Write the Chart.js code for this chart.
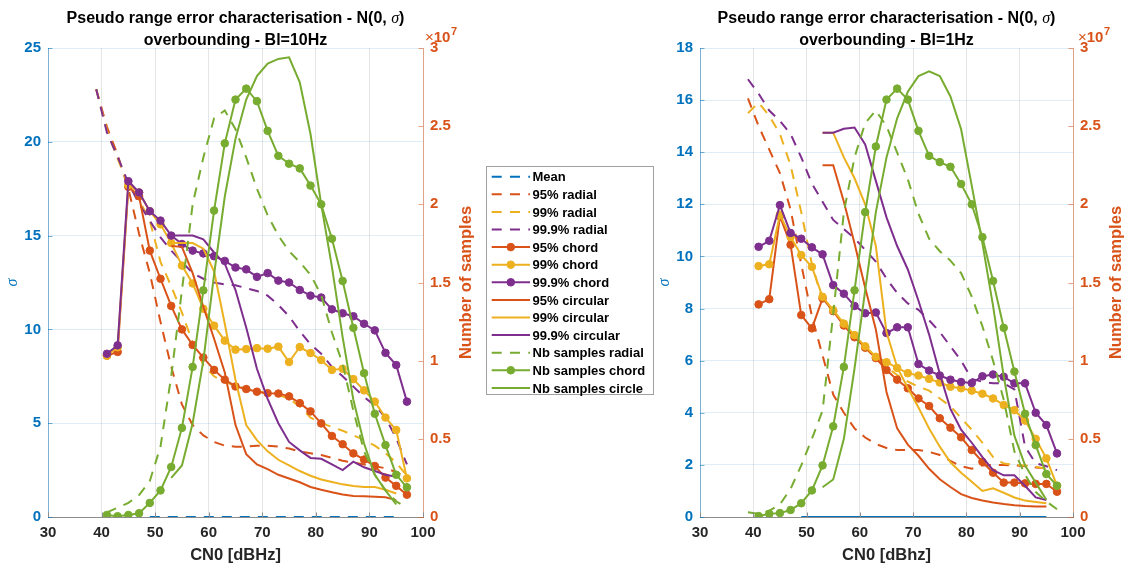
<!DOCTYPE html>
<html>
<head>
<meta charset="utf-8">
<script src="https://cdn.jsdelivr.net/npm/chart.js@4.4.1/dist/chart.umd.min.js"></script>
<style>
  html, body { margin:0; padding:0; background:#fff; }
  body { width:1126px; height:566px; position:relative; overflow:hidden; }
  #cL { position:absolute; left:0; top:0; }
  #cR { position:absolute; left:650px; top:0; }
  #legend { position:absolute; left:486px; top:166px; }
</style>
</head>
<body>
<canvas id="cL" width="484" height="566"></canvas>
<canvas id="cR" width="476" height="566"></canvas>
<svg id="legend" width="170" height="230" xmlns="http://www.w3.org/2000/svg"></svg>
<script>
// ---------- DATA ----------
const cn0 = [39,41,43,45,47,49,51,53,55,57,59,61,63,65,67,69,71,73,75,77,79,81,83,85,87,89,91,93,95,97];
const N = null;

// Left panel: Bl = 10 Hz  (sigma on left axis, samples x1e7 on right axis)
const meanL      = [N,N,N,N,N,0,0,0,0,0,0,0,0,0,0,0,0,0,0,0,0,0,0,0,0,0,0,0,0,N];
const rad95L     = [22.8,20.8,19.3,17.5,15.1,13.0,10.4,8.0,6.0,4.9,4.35,4.0,3.8,3.75,3.75,3.8,3.8,3.75,3.65,3.5,3.4,3.3,3.15,3.0,2.9,2.8,2.7,2.6,2.4,2.1];
const rad99L     = [22.8,20.6,19.1,17.7,16.9,15.8,13.6,12.3,10.9,9.3,8.1,7.5,7.2,7.0,6.85,6.7,6.6,6.5,6.3,5.9,5.3,5.0,4.8,4.6,4.35,4.1,3.8,3.4,2.9,2.2];
const rad999L    = [22.8,20.5,19.2,17.8,16.7,15.8,14.9,14.2,13.6,13.0,12.7,12.5,12.4,12.35,12.2,12.05,11.8,11.3,10.7,9.9,9.2,8.7,8.0,7.5,6.95,6.4,5.95,5.3,4.2,2.8];
const chord95L   = [N,8.6,8.8,17.6,17.1,14.2,12.7,11.25,10.0,9.17,8.5,7.84,7.32,6.96,6.82,6.68,6.6,6.58,6.43,6.07,5.63,4.99,4.32,3.88,3.39,3.06,2.72,2.1,1.66,1.19];
const chord99L   = [N,8.6,9.05,17.7,17.3,16.3,15.6,14.6,13.4,12.45,11.1,10.2,9.4,8.92,8.95,9.0,8.97,9.08,8.26,9.06,8.74,8.37,7.84,7.9,7.35,6.75,6.15,5.3,4.64,2.06];
const chord999L  = [N,8.7,9.15,17.9,17.3,16.3,15.8,15.0,14.55,14.2,14.05,13.9,13.65,13.3,13.2,12.8,13.0,12.6,12.5,12.1,11.8,11.7,11.07,10.86,10.7,10.3,9.95,8.75,8.1,6.15];
const circ95L    = [N,N,N,N,N,N,N,14.45,14.4,13.0,11.2,9.5,7.7,4.9,3.35,2.8,2.55,2.25,2.05,1.85,1.6,1.45,1.32,1.2,1.12,1.1,1.08,1.05,0.9,N];
const circ99L    = [N,N,N,N,N,N,N,14.6,14.6,14.6,14.3,13.1,10.3,7.3,4.9,4.1,3.5,3.05,2.75,2.45,2.2,2.0,1.87,1.74,1.65,1.6,1.6,1.45,1.25,N];
const circ999L   = [N,N,N,N,N,N,N,15.0,15.0,15.0,14.8,14.1,13.5,12.1,10.1,7.9,6.3,5.0,4.0,3.55,3.15,3.1,2.8,2.5,2.95,2.65,2.45,2.25,2.15,N];
const nbRadL     = [N,0.03,0.06,0.09,0.14,0.23,0.45,0.9,1.45,2.0,2.3,2.55,2.6,2.48,2.3,2.1,1.93,1.8,1.7,1.63,1.55,1.42,1.18,0.98,0.68,0.42,0.27,0.17,0.1,0.06];
const nbChordL   = [N,0.013,0.005,0.013,0.024,0.09,0.17,0.32,0.57,0.96,1.45,1.96,2.39,2.67,2.74,2.66,2.47,2.31,2.26,2.23,2.12,2.0,1.78,1.51,1.21,0.92,0.66,0.46,0.27,0.19];
const nbCircL    = [N,N,N,N,N,N,N,0.25,0.33,0.6,1.0,1.55,2.05,2.42,2.67,2.82,2.9,2.93,2.94,2.78,2.45,2.0,1.6,1.15,0.75,0.47,0.27,0.17,0.08,N];

// Right panel: Bl = 1 Hz
const meanR      = [N,N,N,N,N,0,0,0,0,0,0,0,0,0,0,0,0,0,0,0,0,0,0,0,0,0,0,0,0,N];
const rad95R     = [16.07,15.0,14.1,13.2,11.8,9.7,7.7,6.2,4.7,4.0,3.4,3.05,2.8,2.65,2.57,2.57,2.57,2.5,2.38,2.15,1.95,1.85,1.98,2.0,2.0,1.98,1.95,1.9,1.87,N];
const rad99R     = [15.5,15.9,15.4,14.7,13.5,11.7,9.7,8.3,7.9,7.5,7.0,6.5,6.1,5.75,5.45,5.2,5.0,4.85,4.55,4.25,3.8,3.35,2.85,2.3,2.05,2.0,1.98,1.93,1.85,N];
const rad999R    = [16.8,16.25,15.6,15.2,14.7,13.8,12.8,12.1,11.4,11.05,10.7,10.25,9.8,9.15,8.6,8.2,7.95,7.55,7.1,6.55,6.0,5.3,5.19,5.13,5.13,4.9,2.7,2.06,1.95,1.8];
const chord95R   = [N,8.16,8.36,11.55,10.45,7.75,7.24,8.39,7.9,7.35,6.9,6.5,6.1,5.64,5.27,4.94,4.55,4.26,3.79,3.43,3.06,2.57,2.12,1.7,1.32,1.32,1.29,1.27,1.27,0.97];
const chord99R   = [N,9.63,9.7,11.6,10.75,10.05,9.6,8.45,7.94,7.42,6.98,6.55,6.15,5.94,5.72,5.52,5.43,5.3,5.16,5.0,4.94,4.85,4.73,4.55,4.3,4.1,3.7,3.0,2.25,1.2];
const chord999R  = [N,10.37,10.6,11.97,10.9,10.68,10.35,10.08,8.9,8.57,8.1,7.82,7.85,7.06,7.28,7.28,5.87,5.62,5.43,5.27,5.18,5.14,5.4,5.47,5.38,5.13,5.13,4.0,3.53,2.44];
const circ95R    = [N,N,N,N,N,N,N,13.5,13.5,12.1,10.5,8.8,7.2,4.8,3.4,2.78,2.35,1.85,1.45,1.15,0.88,0.73,0.63,0.56,0.5,0.45,0.42,0.4,0.4,N];
const circ99R    = [N,N,N,N,N,N,N,14.75,14.75,13.8,13.0,12.0,10.4,7.1,5.75,4.95,4.2,3.4,2.7,2.1,1.7,1.35,1.0,1.1,0.93,0.75,0.63,0.58,0.53,N];
const circ999R   = [N,N,N,N,N,N,N,14.75,14.75,14.9,14.95,14.3,12.9,11.5,10.4,9.5,8.3,7.0,5.5,4.15,3.35,2.85,2.3,1.8,1.6,1.6,1.2,0.75,0.65,N];
const nbRadR     = [0.03,0.02,0.04,0.08,0.18,0.33,0.5,0.68,1.3,1.95,2.3,2.52,2.6,2.5,2.33,2.16,1.94,1.78,1.7,1.64,1.56,1.41,1.22,1.0,0.75,0.42,0.27,0.16,0.1,0.05];
const nbChordR   = [N,0.006,0.02,0.025,0.045,0.088,0.17,0.33,0.58,0.96,1.45,1.95,2.37,2.67,2.74,2.67,2.47,2.31,2.27,2.24,2.13,2.0,1.79,1.51,1.21,0.93,0.66,0.46,0.275,0.2];
const nbCircR    = [N,N,N,N,N,N,N,0.19,0.24,0.5,0.95,1.45,1.95,2.3,2.55,2.72,2.82,2.85,2.82,2.69,2.48,2.12,1.75,1.35,0.9,0.52,0.33,0.22,0.11,N];

// tick values
const xTicks = [30,40,50,60,70,80,90,100];
const yTicksL = [0,5,10,15,20,25];
const yTicksR = [0,2,4,6,8,10,12,14,16,18];
const nTicks  = [0,0.5,1,1.5,2,2.5,3];

// ---------- STYLE ----------
const BLUE='#0072BD', ORANGE='#D95319', YELLOW='#EDB120', PURPLE='#7E2F8E', GREEN='#77AC30';
const FONT='"Liberation Sans", Arial, Helvetica, sans-serif';
const SERIF='"Liberation Serif", "DejaVu Serif", serif';

const STYLES = [
  {label:'Mean',               color:BLUE,   dash:true,  marker:false, axis:'y'},
  {label:'95% radial',         color:ORANGE, dash:true,  marker:false, axis:'y'},
  {label:'99% radial',         color:YELLOW, dash:true,  marker:false, axis:'y'},
  {label:'99.9% radial',       color:PURPLE, dash:true,  marker:false, axis:'y'},
  {label:'95% chord',          color:ORANGE, dash:false, marker:true,  axis:'y'},
  {label:'99% chord',          color:YELLOW, dash:false, marker:true,  axis:'y'},
  {label:'99.9% chord',        color:PURPLE, dash:false, marker:true,  axis:'y'},
  {label:'95% circular',       color:ORANGE, dash:false, marker:false, axis:'y'},
  {label:'99% circular',       color:YELLOW, dash:false, marker:false, axis:'y'},
  {label:'99.9% circular',     color:PURPLE, dash:false, marker:false, axis:'y'},
  {label:'Nb samples radial',  color:GREEN,  dash:true,  marker:false, axis:'y1'},
  {label:'Nb samples chord',   color:GREEN,  dash:false, marker:true,  axis:'y1'},
  {label:'Nb samples circle',  color:GREEN,  dash:false, marker:false, axis:'y1'}
];
const DASH = [10, 8];

const seriesL = [meanL, rad95L, rad99L, rad999L, chord95L, chord99L, chord999L, circ95L, circ99L, circ999L, nbRadL, nbChordL, nbCircL];
const seriesR = [meanR, rad95R, rad99R, rad999R, chord95R, chord99R, chord999R, circ95R, circ99R, circ999R, nbRadR, nbChordR, nbCircR];

Chart.defaults.font.family = FONT;
Chart.defaults.animation = false;

function drawParts(ctx, parts, cx, y) {
  let total = 0;
  parts.forEach(p => { ctx.font = p.f; p.w = ctx.measureText(p.t).width; total += p.w; });
  let x = cx - total / 2;
  ctx.textAlign = 'left';
  parts.forEach(p => { ctx.font = p.f; ctx.fillText(p.t, x, y); x += p.w; });
}

const decor = {
  id: 'decor',
  afterDraw(chart, args, o) {
    const {ctx, chartArea: a, scales} = chart;
    ctx.save();
    // inward tick marks (matlab style)
    ctx.lineWidth = 1;
    ctx.strokeStyle = 'rgba(0,114,189,0.55)';
    o.yTicks.forEach(v => { const p = Math.round(scales.y.getPixelForValue(v)) + 0.5; ctx.beginPath(); ctx.moveTo(a.left, p); ctx.lineTo(a.left + 4.5, p); ctx.stroke(); });
    ctx.strokeStyle = 'rgba(217,83,25,0.55)';
    nTicks.forEach(v => { const p = Math.round(scales.y1.getPixelForValue(v)) + 0.5; ctx.beginPath(); ctx.moveTo(a.right, p); ctx.lineTo(a.right - 4.5, p); ctx.stroke(); });
    ctx.strokeStyle = '#8c8c8c';
    xTicks.forEach(v => { const p = Math.round(scales.x.getPixelForValue(v)) + 0.5; ctx.beginPath(); ctx.moveTo(p, a.bottom); ctx.lineTo(p, a.bottom - 4.5); ctx.stroke(); });

    // title
    ctx.fillStyle = '#000';
    ctx.textBaseline = 'alphabetic';
    const cx = (a.left + a.right) / 2;
    drawParts(ctx, [
      {t:'Pseudo range error characterisation - N(0, ', f:'bold 16px ' + FONT},
      {t:'\u03C3', f:'italic 16px ' + SERIF},
      {t:')', f:'bold 16px ' + FONT}
    ], cx, 23);
    drawParts(ctx, [{t:o.title2, f:'bold 16px ' + FONT}], cx, 44.5);

    // right axis title (reads bottom-to-top)
    ctx.save();
    ctx.translate(a.right + 43.5, (a.top + a.bottom) / 2);
    ctx.rotate(-Math.PI / 2);
    ctx.fillStyle = ORANGE;
    ctx.font = 'bold 16.5px ' + FONT;
    ctx.textAlign = 'center';
    ctx.textBaseline = 'middle';
    ctx.fillText('Number of samples', 0, 0);
    ctx.restore();

    // exponent label x10^7
    ctx.fillStyle = ORANGE;
    ctx.textAlign = 'left';
    ctx.textBaseline = 'alphabetic';
    let x = a.right + o.expDx;
    ctx.font = '15px ' + FONT;
    ctx.fillText('\u00D7', x, 42); x += ctx.measureText('\u00D7').width;
    ctx.font = 'bold 15px ' + FONT;
    ctx.fillText('10', x, 42); x += ctx.measureText('10').width + 0.5;
    ctx.font = 'bold 11px ' + FONT;
    ctx.fillText('7', x, 35);
    ctx.restore();
  }
};

function makeChart(id, series, o) {
  const datasets = STYLES.map((s, i) => {
    const dashed = s.dash && !(i === 0 && o.meanSolid);
    return {
      label: s.label,
      data: cn0.map((x, j) => ({x: x, y: series[i][j]})),
      yAxisID: s.axis,
      borderColor: s.color,
      backgroundColor: s.color,
      borderWidth: 2,
      borderDash: dashed ? DASH : [],
      pointRadius: s.marker ? 3.8 : 0,
      pointHoverRadius: 0,
      pointBackgroundColor: s.color,
      pointBorderColor: s.color,
      pointBorderWidth: 1,
      tension: 0,
      spanGaps: false,
      fill: false,
      order: STYLES.length - i
    };
  });
  const tickFont = {family: FONT, size: 15, weight: 'bold'};
  const plain = v => String(Math.round(v * 100) / 100);
  return new Chart(document.getElementById(id), {
    type: 'line',
    data: {datasets},
    options: {
      responsive: false,
      devicePixelRatio: 1,
      animation: false,
      events: [],
      layout: {padding: {top: 48, left: 0, right: 0, bottom: 0}},
      plugins: {
        legend: {display: false},
        tooltip: {enabled: false},
        title: {display: false},
        decor: {title2: o.title2, yTicks: o.yTicks, expDx: o.expDx}
      },
      scales: {
        x: {
          type: 'linear', min: 30, max: 100,
          afterBuildTicks: s => { s.ticks = xTicks.map(v => ({value: v})); },
          ticks: {color: '#262626', font: tickFont, padding: 7, maxRotation: 0, autoSkip: false, callback: plain},
          grid: {color: 'rgba(38,38,38,0.12)', drawTicks: false, lineWidth: 1},
          border: {color: '#8c8c8c', width: 1},
          title: {display: true, text: o.xTitle, color: '#262626', font: {family: FONT, size: 16.5, weight: 'bold'}, padding: {top: 0, bottom: 1}},
          afterFit: s => { s.height = 49; }
        },
        y: {
          type: 'linear', position: 'left', min: 0, max: o.yMax,
          afterBuildTicks: s => { s.ticks = o.yTicks.map(v => ({value: v})); },
          ticks: {color: BLUE, font: tickFont, padding: 7, callback: plain},
          grid: {color: 'rgba(0,114,189,0.13)', drawTicks: false, lineWidth: 1},
          border: {color: 'rgba(0,114,189,0.45)', width: 1},
          title: {display: true, text: '\u03C3', color: BLUE, font: {family: SERIF, size: 16, style: 'italic'}, padding: {top: o.sigmaPad, bottom: 0}},
          afterFit: s => { s.width = o.leftW; }
        },
        y1: {
          type: 'linear', position: 'right', min: 0, max: 3,
          afterBuildTicks: s => { s.ticks = nTicks.map(v => ({value: v})); },
          ticks: {color: ORANGE, font: tickFont, padding: 7, callback: plain},
          grid: {drawOnChartArea: false, drawTicks: false},
          border: {color: 'rgba(217,83,25,0.45)', width: 1},
          afterFit: s => { s.width = o.rightW; }
        }
      }
    },
    plugins: [decor]
  });
}

makeChart('cL', seriesL, {title2:'overbounding - Bl=10Hz', xTitle:'CN0 [dBHz]', yMax:25, yTicks:yTicksL, leftW:48, rightW:61, sigmaPad:3.5, expDx:2, meanSolid:false});
makeChart('cR', seriesR, {title2:'overbounding - Bl=1Hz', xTitle:'CN0 [dBhz]', yMax:18, yTicks:yTicksR, leftW:50, rightW:53, sigmaPad:5.4, expDx:5, meanSolid:true});

// ---------- shared legend ----------
(function buildLegend(){
  const svg = document.getElementById('legend');
  const NS = 'http://www.w3.org/2000/svg';
  const mk = (tag, attrs) => { const e = document.createElementNS(NS, tag); for (const k in attrs) e.setAttribute(k, attrs[k]); return e; };
  svg.appendChild(mk('rect', {x:0.5, y:0.5, width:167, height:228, fill:'#fff', stroke:'#a0a0a0', 'stroke-width':1}));
  STYLES.forEach((s, i) => {
    const cy = 10.7 + 17.6 * i;
    const ln = mk('line', {x1:5.7, y1:cy, x2:44, y2:cy, stroke:s.color, 'stroke-width':2});
    if (s.dash) ln.setAttribute('stroke-dasharray', '10 8.3');
    svg.appendChild(ln);
    if (s.marker) svg.appendChild(mk('circle', {cx:24.8, cy:cy, r:3.8, fill:s.color, stroke:s.color, 'stroke-width':1}));
    const t = mk('text', {x:46.5, y:cy + 4.6, fill:'#000', 'font-family':'Liberation Sans, Arial, sans-serif', 'font-size':'13px', 'font-weight':'bold'});
    t.textContent = s.label;
    svg.appendChild(t);
  });
})();
</script>
</body>
</html>
